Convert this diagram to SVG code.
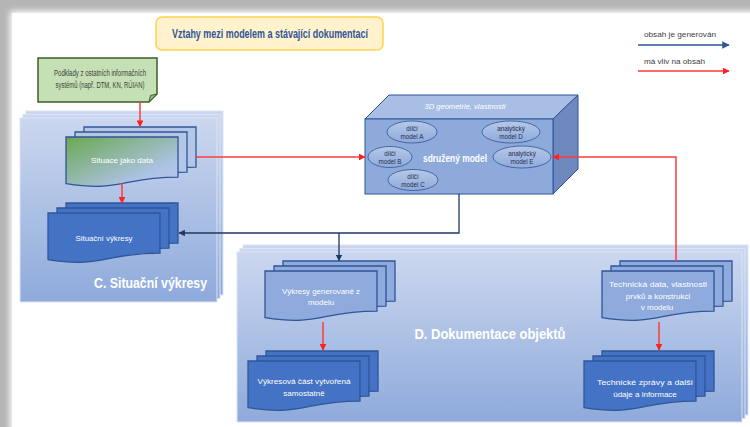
<svg xmlns="http://www.w3.org/2000/svg" xmlns:xlink="http://www.w3.org/1999/xlink" width="750" height="427" viewBox="0 0 750 427">
<defs>
<style>
text{font-family:"Liberation Sans","DejaVu Sans",sans-serif;}
.w{fill:#ffffff;}
.dk{fill:#404040;}
.doc{stroke:#2f5597;stroke-width:1.3;}
.dark{fill:#4472c4;}
.lite{fill:#8faadc;}
.panel{fill:url(#pg);stroke:#dbe4f4;stroke-width:1;}
.red{stroke:#ff3b3b;stroke-width:1.5;fill:none;}
.blue{stroke:#203864;stroke-width:1.3;fill:none;}
.ell{fill:url(#eg);stroke:#2f5597;stroke-width:0.8;}
.et{font-size:6.3px;fill:#1f2d50;text-anchor:middle;}
</style>
<linearGradient id="pg" x1="0" y1="0" x2="0" y2="1">
<stop offset="0" stop-color="#cbd7ef"/>
<stop offset="1" stop-color="#8eaadb"/>
</linearGradient>
<linearGradient id="gg" x1="0" y1="0" x2="1" y2="1">
<stop offset="0" stop-color="#6aa84f"/>
<stop offset="0.75" stop-color="#aec3e6"/>
<stop offset="1" stop-color="#b4c7e7"/>
</linearGradient>
<linearGradient id="eg" x1="0" y1="0" x2="0" y2="1">
<stop offset="0" stop-color="#b6c8e8"/>
<stop offset="1" stop-color="#8eaadb"/>
</linearGradient>
<linearGradient id="bgL" x1="0" y1="0" x2="1" y2="0">
<stop offset="0" stop-color="#9a9a9a"/>
<stop offset="1" stop-color="#e8e8e8"/>
</linearGradient>
<filter id="soft" x="-5%" y="-5%" width="110%" height="110%">
<feGaussianBlur stdDeviation="3"/>
</filter>
<path id="doc" d="M0,0 H112 V40.1 C56,40.1 56,55.3 0,46.7 Z"/>
<marker id="ar" viewBox="0 0 10 10" refX="9" refY="5" markerWidth="4.5" markerHeight="4.5" orient="auto">
<path d="M0,0 L10,5 L0,10 Z" fill="#ff2020"/>
</marker>
<marker id="ab" viewBox="0 0 10 10" refX="9" refY="5" markerWidth="5" markerHeight="5" orient="auto">
<path d="M0,0 L10,5 L0,10 Z" fill="#203864"/>
</marker>
<marker id="abl" viewBox="0 0 10 10" refX="9" refY="5" markerWidth="5" markerHeight="5" orient="auto">
<path d="M0,0 L10,5 L0,10 Z" fill="#2f5597"/>
</marker>
</defs>

<!-- page background and shadow -->
<rect x="0" y="0" width="750" height="427" fill="#b5b5b5"/>
<rect x="10" y="11" width="760" height="440" fill="#ffffff" filter="url(#soft)"/>
<rect x="12" y="13" width="740" height="420" fill="#ffffff"/>

<!-- title -->
<g id="title">
<rect x="156" y="17" width="227" height="33" rx="6" fill="#fff2cc" stroke="#ffd34d" stroke-width="1.5"/>
<text x="270" y="38" font-size="13" font-weight="bold" fill="#2f5597" text-anchor="middle" textLength="196" lengthAdjust="spacingAndGlyphs">Vztahy mezi modelem a stávající dokumentací</text>
</g>

<!-- legend -->
<g id="legend">
<text x="644" y="37" font-size="8" class="dk" textLength="72" lengthAdjust="spacingAndGlyphs">obsah je generován</text>
<line x1="638" y1="45" x2="729" y2="45" stroke="#2f5597" stroke-width="1.5" marker-end="url(#abl)"/>
<text x="644" y="64" font-size="8" class="dk" textLength="61" lengthAdjust="spacingAndGlyphs">má vliv na obsah</text>
<line x1="638" y1="71" x2="729" y2="71" class="red" marker-end="url(#ar)"/>
</g>

<!-- Panel C -->
<g id="panelC">
<rect x="26" y="111" width="197" height="184" class="panel"/>
<rect x="23" y="114.5" width="197" height="184" class="panel"/>
<rect x="20" y="118" width="197" height="184" class="panel"/>
<text x="207" y="288" font-size="15" font-weight="bold" class="w" text-anchor="end" textLength="113" lengthAdjust="spacingAndGlyphs">C. Situační výkresy</text>
</g>

<!-- Panel D -->
<g id="panelD">
<rect x="243" y="245" width="505" height="170" class="panel"/>
<rect x="240" y="248.5" width="505" height="170" class="panel"/>
<rect x="237" y="252" width="505" height="170" class="panel"/>
<text x="490" y="339" font-size="15" font-weight="bold" class="w" text-anchor="middle" textLength="151" lengthAdjust="spacingAndGlyphs">D. Dokumentace objektů</text>
</g>

<!-- green source box -->
<g id="podklady">
<path d="M38,58 H157 V94 L149,102 H38 Z" fill="#c5e0b4" stroke="#3b5e2b" stroke-width="1.5"/>
<path d="M157,94 L150.5,95.5 L149,102 Z" fill="#92b87e" stroke="#3b5e2b" stroke-width="1"/>
<text x="100" y="76" font-size="8.3" class="dk" text-anchor="middle" textLength="92" lengthAdjust="spacingAndGlyphs">Podklady z ostatních informačních</text>
<text x="100" y="88" font-size="8.3" class="dk" text-anchor="middle" textLength="89" lengthAdjust="spacingAndGlyphs">systémů (např. DTM, KN, RÚIAN)</text>
</g>

<!-- Situace jako data -->
<g id="situaceData">
<use href="#doc" x="84" y="127" fill="#b4c7e7" class="doc"/>
<use href="#doc" x="75" y="132" fill="#b4c7e7" class="doc"/>
<use href="#doc" x="66" y="137" fill="url(#gg)" class="doc"/>
<text x="122" y="163" font-size="8" class="w" text-anchor="middle" textLength="62" lengthAdjust="spacingAndGlyphs">Situace jako data</text>
</g>

<!-- Situační výkresy -->
<g id="situacniVykresy">
<use href="#doc" x="66" y="203" class="doc dark"/>
<use href="#doc" x="57" y="208" class="doc dark"/>
<use href="#doc" x="48" y="213" class="doc dark"/>
<text x="104" y="241" font-size="8" class="w" text-anchor="middle" textLength="57" lengthAdjust="spacingAndGlyphs">Situační výkresy</text>
</g>

<!-- 3D model -->
<g id="model">
<path d="M365,119 L389,95 H578 L553,119 Z" fill="#a9bee5" stroke="#2f5597" stroke-width="1"/>
<path d="M553,119 L578,95 V169 L553,194 Z" fill="#6f88bd" stroke="#2f5597" stroke-width="1"/>
<rect x="365" y="119" width="188" height="75" fill="#8eaadb" stroke="#2f5597" stroke-width="1"/>
<text x="465" y="109" font-size="7.8" font-style="italic" class="w" text-anchor="middle" textLength="81" lengthAdjust="spacingAndGlyphs">3D geometrie, vlastnosti</text>
<text x="455" y="162" font-size="10" font-weight="bold" class="w" text-anchor="middle" textLength="64" lengthAdjust="spacingAndGlyphs">sdružený model</text>
<ellipse cx="412" cy="132" rx="25" ry="11" class="ell"/>
<text x="412" y="130.5" class="et">dílčí</text>
<text x="412" y="139" class="et">model A</text>
<ellipse cx="390" cy="157" rx="22" ry="10.5" class="ell"/>
<text x="390" y="155.5" class="et">dílčí</text>
<text x="390" y="164" class="et">model B</text>
<ellipse cx="413" cy="180" rx="25" ry="10.5" class="ell"/>
<text x="413" y="178.5" class="et">dílčí</text>
<text x="413" y="187" class="et">model C</text>
<ellipse cx="511" cy="132" rx="29" ry="11" class="ell"/>
<text x="511" y="130.5" class="et">analytický</text>
<text x="511" y="139" class="et">model D</text>
<ellipse cx="522" cy="157" rx="29" ry="11" class="ell"/>
<text x="522" y="155.5" class="et">analytický</text>
<text x="522" y="164" class="et">model E</text>
</g>

<!-- Výkresy generované z modelu -->
<g id="vykresyGen">
<use href="#doc" x="283" y="261" class="doc lite"/>
<use href="#doc" x="274" y="266" class="doc lite"/>
<use href="#doc" x="265" y="271" class="doc lite"/>
<text x="321" y="294" font-size="8" class="w" text-anchor="middle" textLength="78" lengthAdjust="spacingAndGlyphs">Výkresy generované z</text>
<text x="321" y="305" font-size="8" class="w" text-anchor="middle">modelu</text>
</g>

<!-- Výkresová část vytvořená samostatně -->
<g id="vykresovaCast">
<use href="#doc" x="266" y="351" class="doc dark"/>
<use href="#doc" x="257" y="356" class="doc dark"/>
<use href="#doc" x="248" y="361" class="doc dark"/>
<text x="304" y="384" font-size="8" class="w" text-anchor="middle" textLength="93" lengthAdjust="spacingAndGlyphs">Výkresová část vytvořená</text>
<text x="304" y="396" font-size="8" class="w" text-anchor="middle">samostatně</text>
</g>

<!-- Technická data -->
<g id="technickaData">
<use href="#doc" x="620" y="261" class="doc lite"/>
<use href="#doc" x="611" y="266" class="doc lite"/>
<use href="#doc" x="602" y="271" class="doc lite"/>
<text x="658" y="287" font-size="8" class="w" text-anchor="middle" textLength="98" lengthAdjust="spacingAndGlyphs">Technická data, vlastnosti</text>
<text x="658" y="299" font-size="8" class="w" text-anchor="middle">prvků a konstrukci</text>
<text x="657" y="310" font-size="8" class="w" text-anchor="middle">v modelu</text>
</g>

<!-- Technické zprávy -->
<g id="technickeZpravy">
<use href="#doc" x="602" y="351" class="doc dark"/>
<use href="#doc" x="593" y="356" class="doc dark"/>
<use href="#doc" x="584" y="361" class="doc dark"/>
<text x="645" y="385" font-size="8" class="w" text-anchor="middle" textLength="96" lengthAdjust="spacingAndGlyphs">Technické zprávy a další</text>
<text x="645" y="397" font-size="8" class="w" text-anchor="middle">údaje a informace</text>
</g>

<!-- connectors -->
<g id="connectors">
<line x1="140" y1="102" x2="140" y2="126.5" class="red" marker-end="url(#ar)"/>
<line x1="122" y1="183" x2="122" y2="203" class="red" marker-end="url(#ar)"/>
<line x1="196" y1="157" x2="365" y2="157" class="red" marker-end="url(#ar)"/>
<polyline points="676,261 676,157 553,157" class="red" marker-end="url(#ar)"/>
<polyline points="459,194 459,233 179,233" class="blue" marker-end="url(#ab)"/>
<line x1="339" y1="233" x2="339" y2="260.5" class="blue" marker-end="url(#ab)"/>
<line x1="323" y1="322" x2="323" y2="350" class="red" marker-end="url(#ar)"/>
<line x1="659" y1="322" x2="659" y2="350" class="red" marker-end="url(#ar)"/>
</g>
</svg>
